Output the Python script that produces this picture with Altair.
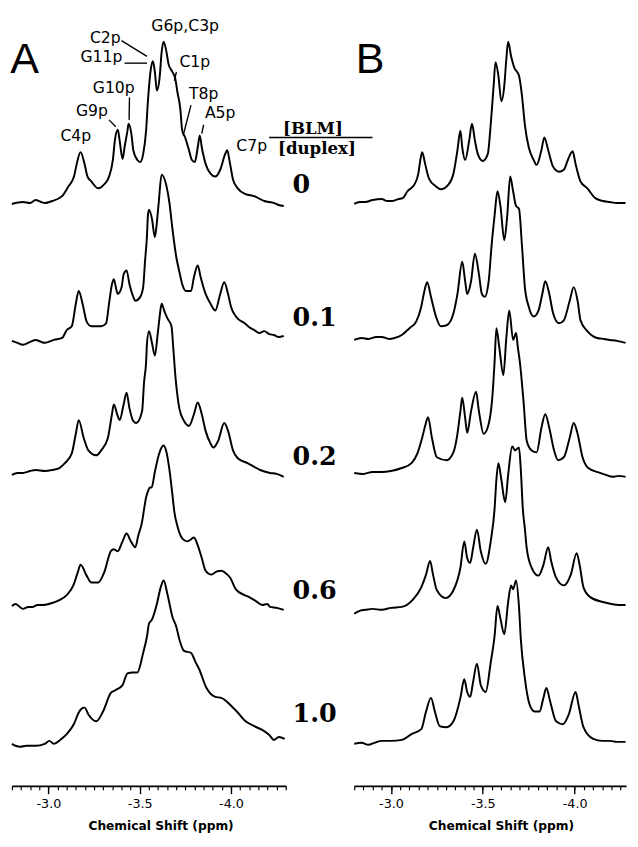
import altair as alt
import pandas as pd

# ---------------- data: (ppm, intensity above own baseline) ----------------
A0 = [(-2.80,-1),(-2.86,1),(-2.90,0),(-2.93,3),(-2.96,1),(-2.98,0),(-3.02,2),(-3.075,7),(-3.11,17),(-3.14,27),(-3.155,40),(-3.176,52),(-3.198,40),(-3.214,27),(-3.235,22),(-3.273,15),(-3.305,19),(-3.332,27),(-3.353,44),(-3.364,64),(-3.38,75),(-3.39,64),(-3.406,45),(-3.417,57),(-3.433,74),(-3.439,81),(-3.455,70),(-3.465,54),(-3.487,44),(-3.503,42),(-3.519,50),(-3.535,74),(-3.545,104),(-3.561,137),(-3.572,145),(-3.583,134),(-3.594,115),(-3.61,130),(-3.62,154),(-3.631,165),(-3.647,154),(-3.658,142),(-3.679,134),(-3.695,127),(-3.706,114),(-3.722,97),(-3.733,74),(-3.749,67),(-3.77,54),(-3.786,44),(-3.802,42),(-3.818,57),(-3.829,69),(-3.84,57),(-3.861,40),(-3.888,30),(-3.914,27),(-3.941,34),(-3.968,50),(-3.979,54),(-3.995,40),(-4.011,24),(-4.037,15),(-4.08,9),(-4.128,7),(-4.16,4),(-4.182,2),(-4.21,1),(-4.235,0),(-4.26,-2),(-4.289,-3)]
A1 = [(-2.80,0),(-2.83,-2),(-2.86,-4),(-2.90,-1),(-2.93,1),(-2.96,-1),(-2.98,-2),(-3.03,1),(-3.075,3),(-3.10,11),(-3.128,15),(-3.15,38),(-3.166,51),(-3.187,38),(-3.209,20),(-3.235,15),(-3.289,15),(-3.316,18),(-3.332,38),(-3.348,58),(-3.358,63),(-3.374,51),(-3.38,48),(-3.401,55),(-3.412,68),(-3.428,72),(-3.444,58),(-3.465,45),(-3.476,41),(-3.503,45),(-3.519,55),(-3.529,81),(-3.54,108),(-3.545,128),(-3.551,134),(-3.567,125),(-3.583,106),(-3.594,121),(-3.604,141),(-3.62,170),(-3.647,158),(-3.663,141),(-3.679,115),(-3.701,85),(-3.717,71),(-3.733,58),(-3.754,51),(-3.781,51),(-3.797,65),(-3.818,77),(-3.834,65),(-3.861,48),(-3.888,38),(-3.914,31),(-3.941,48),(-3.963,60),(-3.984,48),(-4.00,35),(-4.027,25),(-4.075,18),(-4.10,14),(-4.128,11),(-4.155,8),(-4.182,10),(-4.21,7),(-4.235,6),(-4.26,4),(-4.289,5)]
A2 = [(-2.80,-2),(-2.83,0),(-2.86,0),(-2.90,2),(-2.93,3),(-2.98,2),(-3.02,3),(-3.06,5),(-3.09,10),(-3.128,20),(-3.15,40),(-3.166,54),(-3.193,36),(-3.219,23),(-3.262,18),(-3.289,23),(-3.326,36),(-3.348,60),(-3.358,70),(-3.38,58),(-3.39,54),(-3.412,70),(-3.428,82),(-3.444,66),(-3.465,53),(-3.481,51),(-3.513,63),(-3.524,93),(-3.535,113),(-3.54,133),(-3.551,145),(-3.567,133),(-3.583,120),(-3.599,143),(-3.61,161),(-3.62,173),(-3.636,165),(-3.652,158),(-3.674,150),(-3.685,125),(-3.695,100),(-3.706,80),(-3.717,66),(-3.743,53),(-3.77,48),(-3.797,60),(-3.818,72),(-3.84,60),(-3.861,43),(-3.888,30),(-3.904,26),(-3.93,33),(-3.963,51),(-3.984,43),(-4.011,23),(-4.037,15),(-4.091,10),(-4.13,6),(-4.16,3),(-4.214,0),(-4.25,-1),(-4.289,-4)]
A3 = [(-2.80,1),(-2.82,3),(-2.86,-2),(-2.89,0),(-2.915,0),(-2.94,2),(-2.968,2),(-3.02,4),(-3.06,7),(-3.10,12),(-3.139,23),(-3.16,35),(-3.176,43),(-3.209,32),(-3.235,25),(-3.273,25),(-3.305,35),(-3.342,57),(-3.358,59),(-3.38,57),(-3.406,67),(-3.428,75),(-3.449,68),(-3.476,61),(-3.492,73),(-3.513,87),(-3.524,100),(-3.535,112),(-3.545,118),(-3.556,122),(-3.565,122),(-3.583,138),(-3.604,155),(-3.62,163),(-3.631,165),(-3.647,158),(-3.663,140),(-3.679,115),(-3.69,97),(-3.706,83),(-3.733,70),(-3.759,67),(-3.781,69),(-3.797,71),(-3.818,63),(-3.84,50),(-3.861,37),(-3.893,33),(-3.92,36),(-3.947,37),(-3.968,35),(-3.995,30),(-4.027,18),(-4.075,12),(-4.10,10),(-4.128,7),(-4.171,2),(-4.20,3),(-4.214,0),(-4.25,-1),(-4.289,-3)]
A4 = [(-2.80,0),(-2.82,-2),(-2.845,-3),(-2.88,-2),(-2.93,-2),(-2.98,0),(-3.005,3),(-3.03,0),(-3.064,4),(-3.10,10),(-3.139,20),(-3.166,32),(-3.182,36),(-3.198,37),(-3.219,30),(-3.262,23),(-3.299,33),(-3.342,52),(-3.369,55),(-3.406,60),(-3.433,72),(-3.46,73),(-3.487,73),(-3.519,93),(-3.54,110),(-3.551,123),(-3.567,127),(-3.594,143),(-3.615,160),(-3.631,167),(-3.652,153),(-3.679,130),(-3.70,120),(-3.717,107),(-3.743,95),(-3.781,93),(-3.807,83),(-3.824,77),(-3.866,57),(-3.914,48),(-3.947,47),(-3.995,40),(-4.037,32),(-4.08,23),(-4.128,18),(-4.182,13),(-4.21,9),(-4.235,4),(-4.262,7),(-4.294,5)]

B0 = [(-2.80,-3),(-2.83,-1),(-2.86,-1),(-2.90,1),(-2.95,2),(-2.98,0),(-3.01,0),(-3.04,2),(-3.064,3),(-3.09,10),(-3.128,17),(-3.149,28),(-3.16,42),(-3.17,50),(-3.186,38),(-3.207,23),(-3.245,15),(-3.271,12),(-3.314,17),(-3.34,28),(-3.362,52),(-3.378,72),(-3.388,55),(-3.404,42),(-3.426,62),(-3.441,79),(-3.457,62),(-3.473,48),(-3.50,41),(-3.527,48),(-3.543,78),(-3.559,118),(-3.569,142),(-3.585,128),(-3.601,102),(-3.617,118),(-3.628,145),(-3.638,163),(-3.654,148),(-3.67,137),(-3.697,128),(-3.713,108),(-3.729,78),(-3.75,55),(-3.777,42),(-3.793,37),(-3.819,52),(-3.835,65),(-3.856,52),(-3.883,35),(-3.915,30),(-3.941,32),(-3.963,42),(-3.989,51),(-4.005,38),(-4.032,20),(-4.069,13),(-4.112,3),(-4.154,0),(-4.19,-1),(-4.229,-2),(-4.277,-2)]
B1 = [(-2.80,-1),(-2.84,1),(-2.878,0),(-2.92,2),(-2.95,2),(-2.99,0),(-3.02,1),(-3.059,4),(-3.101,11),(-3.138,18),(-3.165,33),(-3.181,48),(-3.197,58),(-3.218,43),(-3.245,23),(-3.271,13),(-3.303,14),(-3.34,26),(-3.362,46),(-3.388,79),(-3.404,59),(-3.415,46),(-3.436,59),(-3.457,87),(-3.479,66),(-3.495,46),(-3.511,43),(-3.532,59),(-3.548,96),(-3.564,126),(-3.58,151),(-3.596,136),(-3.617,101),(-3.633,126),(-3.649,166),(-3.665,151),(-3.681,136),(-3.697,133),(-3.713,96),(-3.729,53),(-3.75,33),(-3.777,23),(-3.803,29),(-3.824,46),(-3.84,59),(-3.862,46),(-3.883,26),(-3.915,16),(-3.941,19),(-3.973,39),(-3.995,53),(-4.016,39),(-4.032,19),(-4.069,8),(-4.122,1),(-4.16,0),(-4.191,-1),(-4.23,-2),(-4.277,-4)]
B2 = [(-2.80,0),(-2.85,-1),(-2.90,1),(-2.95,1),(-3.00,2),(-3.059,5),(-3.112,10),(-3.144,20),(-3.17,36),(-3.186,48),(-3.202,57),(-3.223,36),(-3.25,16),(-3.303,13),(-3.34,21),(-3.362,40),(-3.378,63),(-3.388,77),(-3.404,56),(-3.415,41),(-3.436,63),(-3.463,83),(-3.479,63),(-3.505,40),(-3.532,50),(-3.553,80),(-3.564,113),(-3.574,148),(-3.59,128),(-3.612,100),(-3.628,138),(-3.644,166),(-3.665,136),(-3.681,143),(-3.691,128),(-3.702,113),(-3.723,70),(-3.739,33),(-3.766,23),(-3.793,21),(-3.819,46),(-3.84,60),(-3.862,46),(-3.888,23),(-3.91,13),(-3.941,16),(-3.973,36),(-3.995,51),(-4.016,40),(-4.043,16),(-4.074,5),(-4.138,0),(-4.17,-2),(-4.207,-4),(-4.24,-3),(-4.277,-4)]
B3 = [(-2.80,-5),(-2.83,-2),(-2.862,-1),(-2.90,0),(-2.95,-1),(-3.00,1),(-3.059,2),(-3.117,9),(-3.165,22),(-3.191,35),(-3.213,49),(-3.229,35),(-3.25,19),(-3.298,11),(-3.34,19),(-3.378,42),(-3.399,69),(-3.415,52),(-3.431,47),(-3.447,62),(-3.468,81),(-3.489,59),(-3.516,46),(-3.543,69),(-3.564,102),(-3.574,132),(-3.585,149),(-3.601,132),(-3.622,109),(-3.638,137),(-3.66,166),(-3.676,162),(-3.697,165),(-3.707,142),(-3.718,102),(-3.729,82),(-3.739,62),(-3.766,42),(-3.803,34),(-3.83,45),(-3.856,63),(-3.872,49),(-3.899,32),(-3.941,24),(-3.979,35),(-4.011,57),(-4.027,45),(-4.048,22),(-4.085,12),(-4.154,7),(-4.20,5),(-4.24,4),(-4.277,4)]
B4 = [(-2.80,-2),(-2.84,-1),(-2.878,-3),(-2.91,-1),(-2.95,1),(-3.00,1),(-3.059,2),(-3.112,8),(-3.165,13),(-3.191,31),(-3.218,45),(-3.239,31),(-3.266,16),(-3.303,15),(-3.34,21),(-3.378,45),(-3.399,64),(-3.415,51),(-3.431,46),(-3.447,61),(-3.468,80),(-3.489,58),(-3.516,51),(-3.543,81),(-3.564,108),(-3.58,139),(-3.596,126),(-3.617,110),(-3.638,143),(-3.654,160),(-3.665,156),(-3.681,165),(-3.697,138),(-3.707,105),(-3.729,65),(-3.755,38),(-3.782,31),(-3.809,31),(-3.83,45),(-3.846,55),(-3.867,41),(-3.899,21),(-3.936,18),(-3.968,28),(-4.005,51),(-4.021,38),(-4.048,15),(-4.101,3),(-4.15,1),(-4.191,1),(-4.23,0),(-4.277,0)]

A_offsets = [596, 455, 320, 183, 43]
B_offsets = [598, 457, 320, 181, 45]
ratios = ["0", "0.1", "0.2", "0.6", "1.0"]
ratio_levels = [606, 470, 328, 191, 65]
ratio_ppm = -4.337

major_ticks = [-3.0, -3.5, -4.0]

# peak labels (panel A, top trace): label, ppm, level of text baseline
peak_center = [("G6p,C3p", -3.749, 772), ("C1p", -3.802, 735), ("G10p", -3.358, 708),
               ("T8p", -3.850, 702), ("A5p", -3.941, 683), ("C4p", -3.150, 659)]
peak_right = [("C2p", -3.396, 760), ("G11p", -3.405, 740), ("G9p", -3.326, 685), ("C7p", -4.198, 649)]
leaders = [(-3.40, 762, -3.54, 746), (-3.417, 739, -3.54, 739), (-3.701, 730, -3.690, 721),
           (-3.444, 704, -3.442, 681), (-3.332, 681, -3.369, 674), (-3.781, 696, -3.738, 665),
           (-3.850, 676, -3.840, 667), (-4.209, 663, -4.775, 663)]
fraction = [("[BLM]", -4.449, 667), ("[duplex]", -4.471, 646)]


def frame(spectra, offsets):
    rows = []
    for i, (spec, off) in enumerate(zip(spectra, offsets)):
        for p, v in spec:
            rows.append({"ppm": p, "level": off + v, "trace": i})
    return pd.DataFrame(rows)


def minor_values(lo, hi):
    n = int(round((lo - hi) / 0.05))
    return [round(lo - 0.05 * i, 2) for i in range(n + 1)]


def panel(df, domain, width, letter, letter_ppm, title_x, extra=None):
    xs = alt.Scale(domain=domain, nice=False, zero=False)
    ys = alt.Scale(domain=[0, 785], nice=False, zero=False)
    minor_axis = alt.Axis(values=minor_values(domain[0], domain[1]), labels=False, title=None,
                          tickSize=4, tickWidth=1.2, tickColor="black", domainColor="black",
                          domainWidth=1.6, grid=False, orient="bottom")
    major_axis = alt.Axis(values=major_ticks, labelExpr="'-' + format(abs(datum.value), '.1f')",
                          tickSize=8, tickWidth=1.4, tickColor="black", domain=False, grid=False,
                          orient="bottom", labelFont="DejaVu Sans", labelFontSize=13,
                          labelColor="black", labelPadding=4,
                          title="Chemical Shift (ppm)", titleFont="DejaVu Sans",
                          titleFontSize=12.5, titleFontWeight="bold", titleColor="black",
                          titleX=title_x, titleY=45, titleAlign="center", titleBaseline="alphabetic")
    lines = alt.Chart(df).mark_line(color="black", strokeWidth=2.0, interpolate="monotone").encode(
        x=alt.X("ppm:Q", scale=xs, axis=minor_axis),
        y=alt.Y("level:Q", scale=ys, axis=None),
        detail="trace:N",
        order=alt.Order("ppm:Q", sort="descending"),
    )
    let_df = pd.DataFrame({"label": [letter], "ppm": [letter_ppm], "level": [729]})
    letter_layer = alt.Chart(let_df).mark_text(
        font="Liberation Sans", fontSize=44, align="left", baseline="alphabetic", color="black"
    ).encode(x=alt.X("ppm:Q", scale=xs, axis=major_axis), y=alt.Y("level:Q", scale=ys, axis=None),
             text="label:N")
    layers = [lines, letter_layer]
    if extra:
        for ch in extra:
            layers.append(ch(xs, ys))
    return alt.layer(*layers).resolve_axis(x="independent").properties(width=width, height=785)


def text_layer(rows, font, size, weight, align):
    def build(xs, ys):
        d = pd.DataFrame(rows, columns=["label", "ppm", "level"])
        return alt.Chart(d).mark_text(font=font, fontSize=size, fontWeight=weight, align=align,
                                      baseline="alphabetic", color="black").encode(
            x=alt.X("ppm:Q", scale=xs, axis=None), y=alt.Y("level:Q", scale=ys, axis=None),
            text="label:N")
    return build


def leader_layer(xs, ys):
    d = pd.DataFrame(leaders, columns=["x1", "y1", "x2", "y2"])
    return alt.Chart(d).mark_rule(color="black", strokeWidth=1.4).encode(
        x=alt.X("x1:Q", scale=xs, axis=None), x2="x2:Q",
        y=alt.Y("y1:Q", scale=ys, axis=None), y2="y2:Q")


ratio_rows = [(r, ratio_ppm, lv) for r, lv in zip(ratios, ratio_levels)]

dfA = frame([A0, A1, A2, A3, A4], A_offsets)
dfB = frame([B0, B1, B2, B3, B4], B_offsets)

panelA = panel(dfA, [-2.8, -4.3], 280, "A", -2.791, 152, extra=[
    text_layer(peak_center, "DejaVu Sans", 16, "normal", "center"),
    text_layer(peak_right, "DejaVu Sans", 16, "normal", "right"),
    leader_layer,
    text_layer(fraction, "DejaVu Serif", 17, "bold", "center"),
    text_layer(ratio_rows, "DejaVu Serif", 26, "bold", "left"),
])
panelB = panel(dfB, [-2.8, -4.28], 278, "B", -2.809, 150)

chart = alt.hconcat(panelA, panelB, spacing=70, bounds="flush").properties(
    padding=0, background="white"
).configure_view(stroke=None)

chart.save("out.html", embed_options={"renderer": "svg", "actions": False})
